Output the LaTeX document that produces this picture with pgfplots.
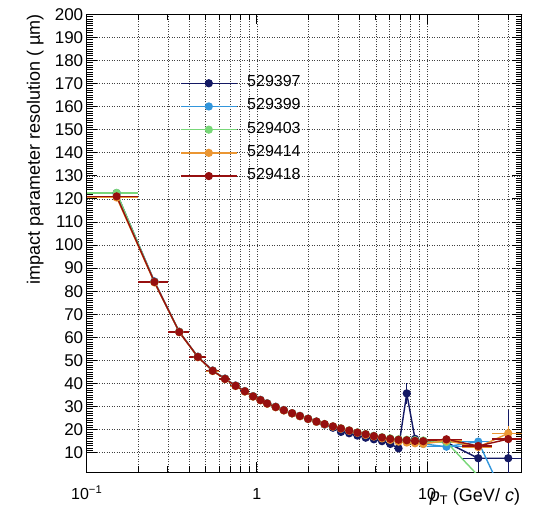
\documentclass[border=0pt]{standalone}
\usepackage{fontspec}
\setmainfont{Liberation Sans}
\usepackage{pgfplots}
\usepackage{pgfplotstable}
\pgfplotsset{compat=1.18}

\definecolor{cA}{RGB}{20,25,100}
\definecolor{cB}{RGB}{50,150,220}
\definecolor{cC}{RGB}{120,215,120}
\definecolor{cD}{RGB}{235,150,50}
\definecolor{cE}{RGB}{150,15,15}

% run 529397
\pgfplotstableread{
x ex y ey
0.15 0.05 122.5 0.3
0.25 0.05 84.2 0.2
0.35 0.05 62.4 0.2
0.45 0.05 51.6 0.1
0.55 0.05 45.6 0.1
0.65 0.05 42.1 0.1
0.75 0.05 39.1 0.1
0.85 0.05 36.7 0.1
0.95 0.05 34.5 0.1
1.05 0.05 32.9 0.1
1.15 0.06 31.4 0.1
1.29 0.07 29.9 0.1
1.44 0.08 28.5 0.1
1.61 0.09 27.1 0.1
1.79 0.10 25.9 0.1
2.00 0.11 24.6 0.1
2.24 0.12 23.4 0.1
2.50 0.14 22.2 0.2
2.80 0.15 20.8 0.2
3.12 0.17 19.0 0.2
3.49 0.19 18.4 0.2
3.90 0.21 17.4 0.2
4.36 0.24 16.5 0.3
4.87 0.26 15.8 0.3
5.44 0.29 15.0 0.3
6.08 0.33 13.8 0.3
6.80 0.37 11.9 0.4
7.60 0.41 35.7 4.5
8.50 0.46 16.0 0.5
9.50 0.50 15.0 0.5
13 3 14.5 1.0
20 4 7.6 5
30 6 7.6 21
}\tA

% run 529399
\pgfplotstableread{
x ex y ey
0.15 0.05 122.3 0.3
0.25 0.05 84.1 0.2
0.35 0.05 62.3 0.2
0.45 0.05 51.5 0.1
0.55 0.05 45.5 0.1
0.65 0.05 42.0 0.1
0.75 0.05 39.0 0.1
0.85 0.05 36.6 0.1
0.95 0.05 34.4 0.1
1.05 0.05 32.8 0.1
1.15 0.06 31.3 0.1
1.29 0.07 29.8 0.1
1.44 0.08 28.4 0.1
1.61 0.09 27.1 0.1
1.79 0.10 25.9 0.1
2.00 0.11 24.7 0.1
2.24 0.12 23.5 0.1
2.50 0.14 22.3 0.2
2.80 0.15 21.3 0.2
3.12 0.17 20.3 0.2
3.49 0.19 19.5 0.2
3.90 0.21 18.7 0.2
4.36 0.24 17.8 0.3
4.87 0.26 17.2 0.3
5.44 0.29 16.4 0.3
6.08 0.33 15.7 0.3
6.80 0.37 15.0 0.4
7.60 0.41 14.8 0.4
8.50 0.46 14.5 0.5
9.50 0.50 13.8 0.5
13 3 12.6 0.6
20 4 14.8 1.2
30 6 -13 3
}\tB

% run 529403
\pgfplotstableread{
x ex y ey
0.15 0.05 122.6 0.3
0.25 0.05 84.0 0.2
0.35 0.05 62.4 0.2
0.45 0.05 51.5 0.1
0.55 0.05 45.5 0.1
0.65 0.05 42.0 0.1
0.75 0.05 39.0 0.1
0.85 0.05 36.6 0.1
0.95 0.05 34.4 0.1
1.05 0.05 32.8 0.1
1.15 0.06 31.3 0.1
1.29 0.07 29.8 0.1
1.44 0.08 28.4 0.1
1.61 0.09 27.1 0.1
1.79 0.10 25.9 0.1
2.00 0.11 24.7 0.1
2.24 0.12 23.5 0.1
2.50 0.14 22.4 0.2
2.80 0.15 21.4 0.2
3.12 0.17 20.6 0.2
3.49 0.19 19.7 0.2
3.90 0.21 18.8 0.2
4.36 0.24 18.1 0.3
4.87 0.26 17.3 0.3
5.44 0.29 16.7 0.3
6.08 0.33 16.2 0.3
6.80 0.37 15.8 0.4
7.60 0.41 15.6 0.4
8.50 0.46 15.4 0.5
9.50 0.50 15.3 0.5
13 3 14.6 0.6
20 4 0 1
30 6 0 1
}\tC

% run 529414
\pgfplotstableread{
x ex y ey
0.15 0.05 120.6 0.3
0.25 0.05 83.8 0.2
0.35 0.05 62.2 0.2
0.45 0.05 51.4 0.1
0.55 0.05 45.4 0.1
0.65 0.05 41.9 0.1
0.75 0.05 38.9 0.1
0.85 0.05 36.5 0.1
0.95 0.05 34.3 0.1
1.05 0.05 32.7 0.1
1.15 0.06 31.2 0.1
1.29 0.07 29.7 0.1
1.44 0.08 28.3 0.1
1.61 0.09 27.0 0.1
1.79 0.10 25.8 0.1
2.00 0.11 24.6 0.1
2.24 0.12 23.4 0.1
2.50 0.14 22.3 0.2
2.80 0.15 21.3 0.2
3.12 0.17 20.4 0.2
3.49 0.19 19.5 0.2
3.90 0.21 18.6 0.2
4.36 0.24 17.7 0.3
4.87 0.26 17.0 0.3
5.44 0.29 16.2 0.3
6.08 0.33 15.5 0.3
6.80 0.37 14.8 0.4
7.60 0.41 14.4 0.4
8.50 0.46 14.1 0.5
9.50 0.50 13.8 0.5
13 3 15.2 0.6
20 4 12.4 1.2
30 6 18.4 3
}\tD

% run 529418
\pgfplotstableread{
x ex y ey
0.15 0.05 121.1 0.3
0.25 0.05 84.0 0.2
0.35 0.05 62.3 0.2
0.45 0.05 51.5 0.1
0.55 0.05 45.5 0.1
0.65 0.05 42.0 0.1
0.75 0.05 39.0 0.1
0.85 0.05 36.6 0.1
0.95 0.05 34.4 0.1
1.05 0.05 32.8 0.1
1.15 0.06 31.3 0.1
1.29 0.07 29.8 0.1
1.44 0.08 28.4 0.1
1.61 0.09 27.1 0.1
1.79 0.10 25.9 0.1
2.00 0.11 24.7 0.1
2.24 0.12 23.5 0.1
2.50 0.14 22.4 0.2
2.80 0.15 21.4 0.2
3.12 0.17 20.5 0.2
3.49 0.19 19.6 0.2
3.90 0.21 18.7 0.2
4.36 0.24 18.0 0.3
4.87 0.26 17.2 0.3
5.44 0.29 16.6 0.3
6.08 0.33 16.0 0.3
6.80 0.37 15.6 0.4
7.60 0.41 15.4 0.4
8.50 0.46 15.1 0.5
9.50 0.50 15.0 0.5
13 3 15.8 0.6
20 4 12.9 1.2
30 6 15.9 1.5
}\tE

\pgfplotsset{
  series/.style={
    color=#1, line width=1.4bp, mark=*, mark size=3.4bp,
    mark options={solid, fill=#1, draw=#1},
    error bars/.cd, x dir=both, x explicit, y dir=both, y explicit,
    error mark=none, error bar style={line width=1.4bp, color=#1}
  }
}

\begin{document}
\begin{tikzpicture}
\path[use as bounding box] (-86.7bp,-42.7bp) rectangle (447.3bp,472.3bp);
\begin{axis}[
  at={(0,0)}, anchor=south west,
  width=435bp, height=458bp, scale only axis,
  xmode=log, xmin=0.1, xmax=36, ymin=1.5, ymax=200,
  xtick={0.1,1,10}, xticklabels={10\textsuperscript{−1},1,10},
  minor xtick={0.2,0.3,0.4,0.5,0.6,0.7,0.8,0.9,2,3,4,5,6,7,8,9,20,30},
  ytick={10,20,...,200}, minor y tick num=9,
  xmajorgrids, xminorgrids, ymajorgrids,
  grid style={black!75, line width=0.5bp, dash pattern=on 1bp off 1.5bp},
  major tick length=10bp, minor tick length=6bp,
  tick style={black, line width=0.8bp},
  axis line style={black, line width=1bp},
  /pgf/number format/assume math mode=true,
  yticklabel style={font=\fontsize{17bp}{19bp}\selectfont},
  xticklabel style={font=\fontsize{16bp}{18bp}\selectfont, anchor=base, yshift=-27bp},
  xlabel={\textit{p}\textsubscript{T} (GeV/ \textit{c})},
  ylabel={impact parameter resolution ( µm)},
  xlabel style={font=\fontsize{18bp}{20bp}\selectfont, at={(rel axis cs:1,0)}, anchor=north east, inner sep=0pt, yshift=-16bp, xshift=-1.5bp},
  ylabel style={font=\fontsize{18bp}{20bp}\selectfont, at={(rel axis cs:0,1)}, anchor=south east, inner sep=0pt, yshift=43bp},
  legend style={draw=none, fill=none, inner sep=0pt, outer sep=0pt,
    at={(axis cs:0.354,150)}, anchor=west,
    font=\fontsize{16bp}{18bp}\selectfont,
    nodes={inner sep=0pt, text height=15bp, text depth=8.2bp},
    /tikz/every odd column/.append style={column sep=9.7bp}},
  legend cell align=left,
  legend image code/.code={
    \draw[mark repeat=2, mark phase=2] plot coordinates {(0bp,0bp) (28bp,0bp) (56bp,0bp)};
  },
]
\addplot[series=cA] table[x=x, y=y, x error=ex, y error=ey] {\tA};
\addlegendentry{529397}
\addplot[series=cB] table[x=x, y=y, x error=ex, y error=ey] {\tB};
\addlegendentry{529399}
\addplot[series=cC] table[x=x, y=y, x error=ex, y error=ey] {\tC};
\addlegendentry{529403}
\addplot[series=cD] table[x=x, y=y, x error=ex, y error=ey] {\tD};
\addlegendentry{529414}
\addplot[series=cE] table[x=x, y=y, x error=ex, y error=ey] {\tE};
\addlegendentry{529418}
\end{axis}
\end{tikzpicture}
\end{document}
